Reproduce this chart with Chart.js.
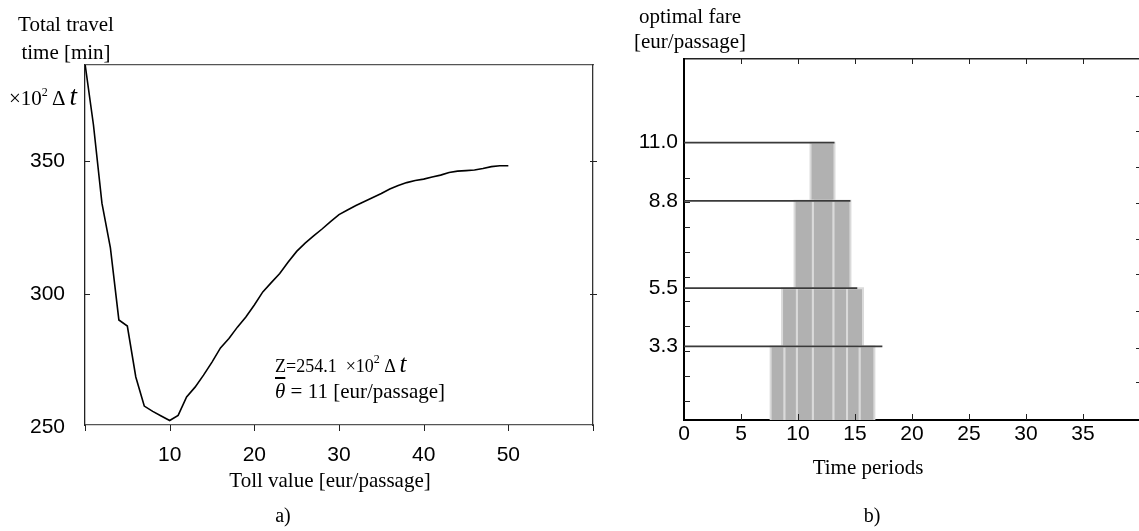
<!DOCTYPE html>
<html>
<head>
<meta charset="utf-8">
<script src="https://cdn.jsdelivr.net/npm/chart.js@4.4.1/dist/chart.umd.min.js"></script>
<style>
  body { margin:0; width:1139px; height:531px; overflow:hidden; background:#fff; position:relative; }
  canvas { position:absolute; top:0; }
  .t { position:absolute; white-space:nowrap; line-height:21px; color:#000; font-family:"Liberation Serif","Times New Roman",serif; font-size:21px; z-index:2; }
  .c { transform:translateX(-50%); }
  .sup { font-size:12px; position:relative; top:-9px; }
</style>
</head>
<body>
<canvas id="chartA" width="620" height="531" style="left:0"></canvas>
<canvas id="chartB" width="552" height="531" style="left:600px"></canvas>

<!-- a) labels -->
<div class="t c" style="left:66px;top:14px">Total travel</div>
<div class="t c" style="left:66px;top:42px">time [min]</div>
<div class="t" style="left:9px;top:86px">×10<span class="sup">2</span> Δ <i style="font-size:27px">t</i></div>
<div class="t" style="left:275px;top:353px;font-size:18px">Z=254.1 &nbsp;×10<span class="sup">2</span> Δ <i style="font-size:25px">t</i></div>
<div class="t" style="left:275px;top:381px"><i style="text-decoration:overline">θ</i> = 11 [eur/passage]</div>
<div class="t c" style="left:330px;top:470px">Toll value [eur/passage]</div>
<div class="t c" style="left:283px;top:505px;font-size:20px">a)</div>

<!-- b) labels -->
<div class="t c" style="left:690px;top:6px">optimal fare</div>
<div class="t c" style="left:690px;top:31px">[eur/passage]</div>
<div class="t c" style="left:868px;top:457px">Time periods</div>
<div class="t c" style="left:872px;top:505px;font-size:20px">b)</div>

<script>
// a) total travel time against toll value
var tollValues = [0,1,2,3,4,5,6,7,8,9,10,11,12,13,14,15,16,17,18,19,20,21,22,23,24,25,
                  26,27,28,29,30,31,32,33,34,35,36,37,38,39,40,41,42,43,44,45,46,47,48,49,50];
var travelTime = [386.5,363.5,334.2,317.4,290.4,288.1,269.0,258.1,256.1,254.4,252.7,254.6,261.5,265.2,269.7,274.6,
                  279.9,283.4,287.7,291.5,296.0,300.9,304.4,307.8,312.1,316.1,319.2,321.9,324.5,327.3,329.9,
                  331.6,333.3,334.8,336.3,337.8,339.5,340.8,341.9,342.7,343.2,344.0,344.7,345.7,346.2,346.4,
                  346.6,347.2,347.9,348.2,348.2];
var tollTicks = [10,20,30,40,50];
var timeTicks = [250,300,350];

// b) optimal fare by time period
var fareLevels = [3.3, 5.5, 8.8, 11.0];
var fareLineEnd = [17.4, 15.2, 14.6, 13.2];
var edges33 = [7.6, 8.8, 9.9, 11.3, 13.1, 14.3, 15.4, 16.7];
var edges55 = [8.6, 9.9, 11.3, 13.1, 14.3, 15.7];
var edges88 = [9.7, 11.3, 13.1, 14.6];
var edges110 = [11.1, 13.2];
var periodTicks = [0,5,10,15,20,25,30,35];
var fareMinorLeft = [1.24,2.19,3.13,4.07,5.02,5.93,6.87,7.81,8.76,9.66];
var fareMinorRight = [1.96,3.24,4.64,6.04,7.36,8.72,10.08,11.44,12.76];

var sans = "'Liberation Sans', Arial, sans-serif";

// short tick marks drawn at the plot edges
var tickMarkSets = {
  chartA: [
    {scale:'y', edge:'left', from:0, to:5, values:[300,350]},
    {scale:'yR', edge:'right', from:-4, to:3, values:[300,350]},
    {scale:'x', edge:'bottom', from:-6, to:0, values:[0,10,20,30,40,50,60]}
  ],
  chartB: [
    {scale:'y', edge:'left', from:0, to:6, values:fareMinorLeft},
    {scale:'yR', edge:'right', from:0, to:4, values:fareMinorRight},
    {scale:'x', edge:'bottom', from:0, to:6, values:[5,10,15,20,25,30,35]},
    {scale:'xTop', edge:'top', from:0, to:5, values:[5,10,15,20,25,30,35]}
  ]
};

Chart.register({
  id: 'tickMarks',
  afterDraw: function(chart){
    var marks = tickMarkSets[chart.canvas.id] || [];
    var ctx = chart.ctx, a = chart.chartArea;
    ctx.save();
    ctx.strokeStyle = '#222';
    ctx.lineWidth = 1;
    marks.forEach(function(m){
      var s = chart.scales[m.scale];
      m.values.forEach(function(v){
        var p = Math.round(s.getPixelForValue(v)) + 0.5;
        ctx.beginPath();
        if (m.edge === 'left') { ctx.moveTo(a.left + m.from, p); ctx.lineTo(a.left + m.to, p); }
        else if (m.edge === 'right') { ctx.moveTo(a.right - m.from, p); ctx.lineTo(a.right - m.to, p); }
        else if (m.edge === 'bottom') { ctx.moveTo(p, a.bottom - m.from); ctx.lineTo(p, a.bottom - m.to); }
        else { ctx.moveTo(p, a.top + m.from); ctx.lineTo(p, a.top + m.to); }
        ctx.stroke();
      });
    });
    ctx.restore();
  }
});

function fixed(list){ return function(s){ s.ticks = list.map(function(v){ return {value:v}; }); }; }
function width(w){ return function(s){ s.width = w; }; }
function height(h){ return function(s){ s.height = h; }; }

var noGrid = {display:false, drawOnChartArea:false, drawTicks:false};

// chart a)
new Chart(document.getElementById('chartA'), {
  type: 'line',
  data: {
    datasets: [{
      data: tollValues.map(function(x, i){ return {x:x, y:travelTime[i]}; }),
      borderColor: '#000',
      borderWidth: 1.6,
      pointRadius: 0,
      tension: 0,
      fill: false
    }]
  },
  options: {
    responsive: false,
    animation: false,
    events: [],
    layout: {padding: 0},
    plugins: {legend:{display:false}, tooltip:{enabled:false}},
    scales: {
      x: {
        type:'linear', position:'bottom', min:0, max:60,
        afterBuildTicks: fixed(tollTicks), afterFit: height(106),
        grid: noGrid, border: {color:'#555', width:1.3},
        ticks: {font:{family:sans, size:21}, color:'#000', padding:18, maxRotation:0, autoSkip:false}
      },
      xTop: {
        type:'linear', position:'top', min:0, max:60,
        afterFit: height(65), grid: noGrid, border: {color:'#555', width:1.3},
        ticks: {display:false}
      },
      y: {
        type:'linear', position:'left', min:251, max:386,
        afterBuildTicks: fixed(timeTicks), afterFit: width(85),
        grid: noGrid, border: {color:'#222', width:1.3},
        ticks: {font:{family:sans, size:21}, color:'#000', padding:20}
      },
      yR: {
        type:'linear', position:'right', min:251, max:386,
        afterFit: width(27), grid: noGrid, border: {color:'#333', width:1.3},
        ticks: {display:false}
      }
    }
  }
});

// chart b): one filled block per column of each fare layer, then the fare lines
var layers = [edges33, edges55, edges88, edges110];
var datasetsB = [];
fareLevels.forEach(function(f, k){
  datasetsB.push({
    data: [{x:0, y:f}, {x:fareLineEnd[k], y:f}],
    borderColor: '#3a3a3a', borderWidth: 1.8, pointRadius: 0, fill: false, order: 0
  });
});
layers.forEach(function(edges, k){
  var lo = k === 0 ? 0 : fareLevels[k - 1];
  var hi = fareLevels[k];
  for (var i = 0; i < edges.length - 1; i++) {
    datasetsB.push({
      data: [{x:edges[i], y:lo}, {x:edges[i], y:hi}, {x:edges[i+1], y:hi}, {x:edges[i+1], y:lo}],
      borderColor: '#dadada', borderWidth: 2, backgroundColor: '#b1b1b1',
      pointRadius: 0, tension: 0, fill: {value: lo}, order: 1
    });
  }
});

new Chart(document.getElementById('chartB'), {
  type: 'line',
  data: {datasets: datasetsB},
  options: {
    responsive: false,
    animation: false,
    events: [],
    layout: {padding: 0},
    plugins: {legend:{display:false}, tooltip:{enabled:false}},
    scales: {
      x: {
        type:'linear', position:'bottom', min:0, max:40,
        afterBuildTicks: fixed(periodTicks), afterFit: height(111),
        grid: noGrid, border: {color:'#000', width:2},
        ticks: {font:{family:sans, size:21}, color:'#000', padding:2, maxRotation:0, autoSkip:false}
      },
      xTop: {
        type:'linear', position:'top', min:0, max:40,
        afterFit: height(59), grid: noGrid, border: {color:'#222', width:1.5},
        ticks: {display:false}
      },
      y: {
        type:'linear', position:'left', min:0.52, max:14.16,
        afterBuildTicks: fixed(fareLevels), afterFit: width(84),
        grid: noGrid, border: {color:'#000', width:2},
        ticks: {font:{family:sans, size:21}, color:'#000', padding:6,
                callback: function(v){ return v.toFixed(1); }}
      },
      yR: {
        type:'linear', position:'right', min:0.52, max:14.16,
        afterFit: width(12), grid: noGrid, border: {display:false},
        ticks: {display:false}
      }
    }
  }
});
</script>
</body>
</html>
